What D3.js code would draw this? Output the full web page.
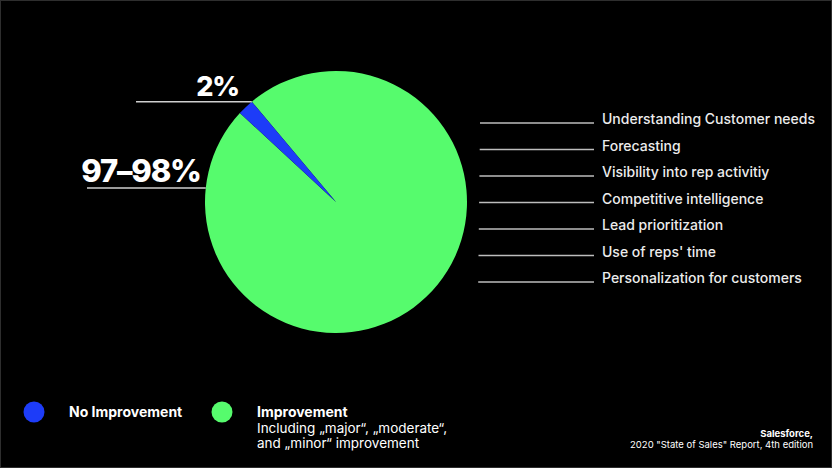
<!DOCTYPE html>
<html>
<head>
<meta charset="utf-8">
<script src="https://cdn.jsdelivr.net/npm/d3@7"></script>
<style>
  html, body { margin: 0; padding: 0; background: #000; }
  svg { display: block; font-family: Inter, "Open Sans", sans-serif; }
</style>
</head>
<body>
<svg id="chart"></svg>
<script>
// pie data
const categories = ["Improvement", "No Improvement"];
const shares = [98, 2];
const sliceLabels = ["97–98%", "2%"];
const colors = ["#56fb6d", "#1d3cf8"];

// blank lines on the right
const listItems = [
  "Understanding Customer needs",
  "Forecasting",
  "Visibility into rep activitiy",
  "Competitive intelligence",
  "Lead prioritization",
  "Use of reps' time",
  "Personalization for customers"
];

const legendNotes = ["Including „major“, „moderate“,", "and „minor“ improvement"];
const sourceLines = ["Salesforce,", "2020 \"State of Sales\" Report, 4th edition"];

const width = 832, height = 468;
const cx = 336, cy = 202, radius = 131;

const svg = d3.select("#chart").attr("width", width).attr("height", height);

svg.append("rect")
  .attr("x", 0.5).attr("y", 0.5)
  .attr("width", width - 1).attr("height", height - 1)
  .attr("fill", "#000").attr("stroke", "#2e2e2e");

const pie = d3.pie().sort(null)
  .startAngle(-40 * Math.PI / 180)
  .endAngle(320 * Math.PI / 180);
const arcs = pie(shares);
const arc = d3.arc().innerRadius(0).outerRadius(radius);

const g = svg.append("g").attr("transform", `translate(${cx},${cy})`);
g.selectAll("path")
  .data(arcs)
  .join("path")
  .attr("d", arc)
  .attr("fill", (d, i) => colors[i]);

// slice labels with underline
const small = arcs[1];
const tipX = cx + radius * Math.sin(small.endAngle);
const tipY = cy - radius * Math.cos(small.endAngle);
const bigY = 188;
const bigX = cx - Math.sqrt(radius * radius - (bigY - cy) * (bigY - cy));

const labelSpots = [
  { x1: 87, x2: bigX, y: bigY, size: 31, gap: 5, text: sliceLabels[0] },
  { x1: 136, x2: tipX, y: tipY, size: 27, gap: 13, text: sliceLabels[1] }
];

labelSpots.forEach(s => {
  svg.append("line")
    .attr("x1", s.x1).attr("x2", s.x2)
    .attr("y1", s.y).attr("y2", s.y)
    .attr("stroke", "#cfcfcf").attr("stroke-width", 1.5);
  svg.append("text")
    .attr("x", s.x2 - s.gap).attr("y", s.y - 6)
    .attr("text-anchor", "end")
    .attr("fill", "#fff")
    .attr("font-weight", 800)
    .attr("font-size", s.size)
    .attr("letter-spacing", -1.2)
    .text(s.text);
});

// right list
const yList = d3.scalePoint().domain(listItems).range([123, 282]);
const list = svg.append("g");
list.selectAll("line")
  .data(listItems)
  .join("line")
  .attr("x1", (d, i) => 480 - i * 0.3).attr("x2", 594)
  .attr("y1", d => yList(d)).attr("y2", d => yList(d))
  .attr("stroke", "#bdbdbd").attr("stroke-width", 1.5);
list.selectAll("text")
  .data(listItems)
  .join("text")
  .attr("x", 602)
  .attr("y", d => yList(d) + 1)
  .attr("fill", "#ececec")
  .attr("font-size", 14)
  .attr("font-weight", 500)
  .text(d => d);

// legend
const legendX = [34, 222];
const legendOrder = [1, 0];
legendOrder.forEach((k, j) => {
  svg.append("circle")
    .attr("cx", legendX[j]).attr("cy", 412).attr("r", 10.5)
    .attr("fill", colors[k]);
  svg.append("text")
    .attr("x", legendX[j] + 35).attr("y", 417)
    .attr("fill", "#fff").attr("font-size", 14).attr("font-weight", 700)
    .text(categories[k]);
});
legendNotes.forEach((t, i) => {
  svg.append("text")
    .attr("x", 257).attr("y", 433 + i * 15)
    .attr("fill", "#fff").attr("font-size", 13.5)
    .text(t);
});

// source
sourceLines.forEach((t, i) => {
  svg.append("text")
    .attr("x", 813).attr("y", 437 + i * 11)
    .attr("text-anchor", "end")
    .attr("fill", "#fff")
    .attr("font-size", 9.5)
    .attr("font-weight", i === 0 ? 700 : 400)
    .text(t);
});
</script>
</body>
</html>
